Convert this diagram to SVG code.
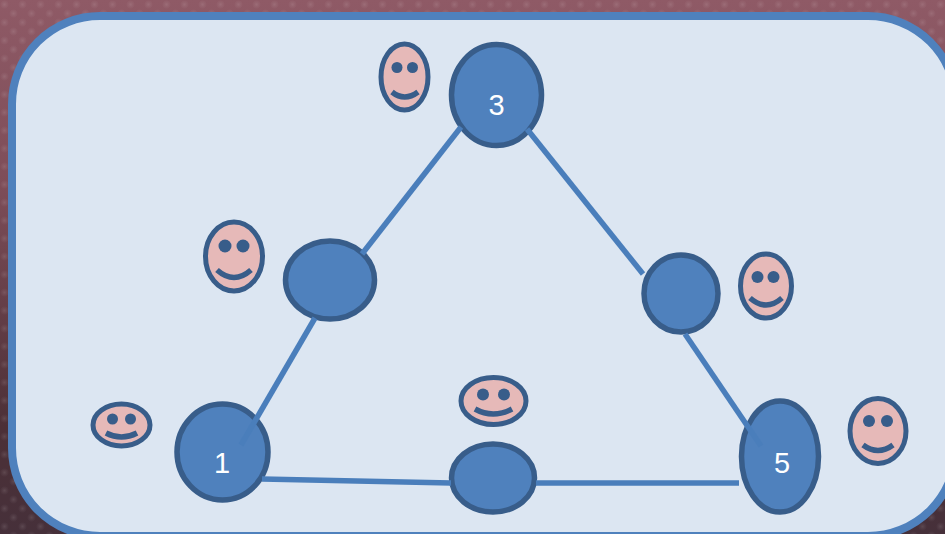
<svg xmlns="http://www.w3.org/2000/svg" width="945" height="534" viewBox="0 0 945 534">
<style>
.n{fill:#4f81bd;stroke:#385d8a;stroke-width:5.500}
.f{fill:#e6b9b8;stroke:#385d8a;stroke-width:5}
.e{fill:#385d8a}
.m{fill:none;stroke:#385d8a;stroke-width:5.500}
.c{fill:none;stroke:#4a7ebb;stroke-width:5.500}
.t{font-family:"Liberation Sans",Arial,sans-serif;font-size:29px;fill:#fff;text-anchor:middle}
</style>
<defs>
<linearGradient id="bg" x1="0" y1="0" x2="0" y2="1">
<stop offset="0" stop-color="#8f5a66"/><stop offset="0.35" stop-color="#7d4d58"/><stop offset="0.8" stop-color="#4c3037"/><stop offset="1" stop-color="#46303a"/>
</linearGradient>
<radialGradient id="dot"><stop offset="0" stop-color="#fff" stop-opacity="0.11"/><stop offset="1" stop-color="#fff" stop-opacity="0"/></radialGradient>
<pattern id="chk" width="18" height="18" patternUnits="userSpaceOnUse">
<rect x="0" y="0" width="9" height="9" fill="url(#dot)"/>
<rect x="9" y="9" width="9" height="9" fill="url(#dot)"/>
</pattern>
</defs>
<rect width="945" height="534" fill="url(#bg)"/>
<rect width="945" height="534" fill="url(#chk)"/>
<rect id="panel" x="12" y="16" width="944" height="520" rx="88" ry="88" fill="#dce6f2" stroke="#4f81bd" stroke-width="8"/>
<g id="node-3"><ellipse class="n" cx="496.500" cy="95" rx="45" ry="50.500"/><text class="t" x="496.500" y="115">3</text></g>
<g id="node-2"><ellipse class="n" cx="330" cy="280" rx="44.500" ry="39"/></g>
<g id="node-4"><ellipse class="n" cx="681" cy="293.500" rx="37" ry="38.500"/></g>
<g id="node-1"><ellipse class="n" cx="222.500" cy="452" rx="45.500" ry="48"/><text class="t" x="222" y="473">1</text></g>
<g id="node-6"><ellipse class="n" cx="493" cy="478" rx="41.500" ry="34"/></g>
<g id="node-5"><ellipse class="n" cx="780" cy="456.500" rx="38.500" ry="55.500"/><text class="t" x="782" y="473">5</text></g>
<g id="connectors">
<path class="c" d="M461 127L362 254"/>
<path class="c" d="M527 129L643 274"/>
<path class="c" d="M315 318L241 445"/>
<path class="c" d="M685 334L761 446"/>
<path class="c" d="M262 479L451 483"/>
<path class="c" d="M536 483L739 483"/>
</g>
<g id="face-3"><ellipse class="f" cx="404.500" cy="77" rx="23.500" ry="33"/><circle class="e" cx="397" cy="67.500" r="5.500"/><circle class="e" cx="412.500" cy="67.500" r="5.500"/><path class="m" d="M392 92Q404.500 102 418 92"/></g>
<g id="face-2"><ellipse class="f" cx="234" cy="256.500" rx="28.500" ry="34.500"/><circle class="e" cx="225" cy="246" r="6.500"/><circle class="e" cx="243" cy="246" r="6.500"/><path class="m" d="M217 270Q234 285 251 270"/></g>
<g id="face-4"><ellipse class="f" cx="766" cy="286" rx="25.500" ry="32"/><circle class="e" cx="757.500" cy="277" r="6"/><circle class="e" cx="773.500" cy="277" r="6"/><path class="m" d="M750 298Q766 312 782 298"/></g>
<g id="face-1"><ellipse class="f" cx="121.500" cy="425" rx="28.500" ry="21"/><circle class="e" cx="112.500" cy="419" r="5.500"/><circle class="e" cx="130.500" cy="419" r="5.500"/><path class="m" d="M106 433Q121.500 441 137 433"/></g>
<g id="face-6"><ellipse class="f" cx="493.500" cy="401" rx="32.500" ry="23.500"/><circle class="e" cx="483" cy="394.500" r="6"/><circle class="e" cx="504" cy="394.500" r="6"/><path class="m" d="M475 409Q493 419 512 409"/></g>
<g id="face-5"><ellipse class="f" cx="878" cy="431" rx="28" ry="32.500"/><circle class="e" cx="869" cy="421" r="6"/><circle class="e" cx="887" cy="421" r="6"/><path class="m" d="M863 445Q878 456 893 445"/></g>
</svg>
